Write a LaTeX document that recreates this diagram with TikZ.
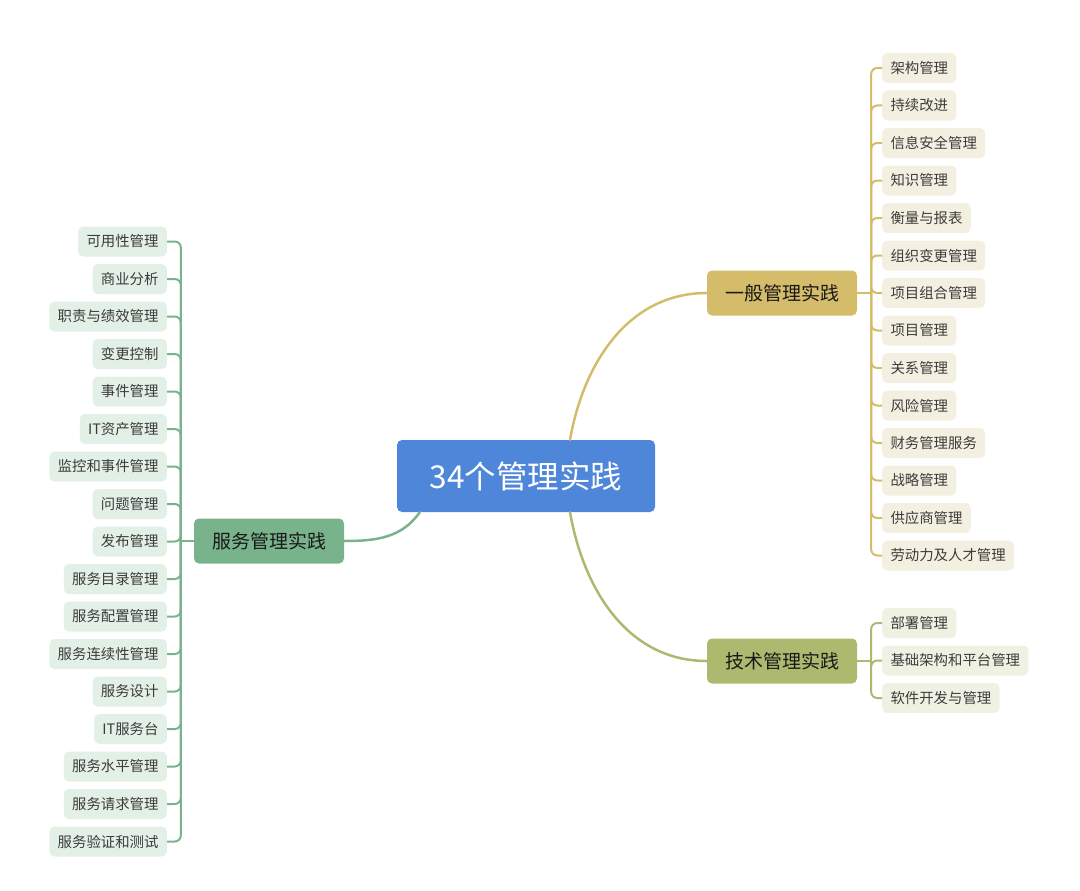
\documentclass[tikz,border=0pt]{standalone}
\usepackage{fontspec}
\setmainfont{Noto Sans CJK SC}
\usetikzlibrary{positioning}
\definecolor{hubBlue}{HTML}{4E86DA}
\definecolor{genGold}{HTML}{D4BC6A}
\definecolor{genLeaf}{HTML}{F4F0E1}
\definecolor{techOlive}{HTML}{ADB96E}
\definecolor{techLeaf}{HTML}{EFF1E3}
\definecolor{svcGreen}{HTML}{79B38C}
\definecolor{svcLeaf}{HTML}{E3F0E6}
\definecolor{leafText}{HTML}{3C3C3C}

\begin{document}
\begin{tikzpicture}[x=1pt, y=-1pt,
      hub/.style={fill=hubBlue, rounded corners=5pt, text=white, align=center,
        font=\fontsize{31.5}{35}\selectfont, minimum width=258pt, minimum height=72pt},
      practice/.style={rounded corners=5pt, text=black!90, align=center,
        font=\fontsize{19}{22}\selectfont, minimum width=150pt, minimum height=45pt},
      leaf/.style={rounded corners=5pt, text=leafText, inner xsep=8.3pt, inner ysep=0pt,
        font=\fontsize{14.4}{16}\selectfont, minimum height=30pt},
      gleaf/.style={leaf, fill=genLeaf, anchor=west},
      tleaf/.style={leaf, fill=techLeaf, anchor=west},
      sleaf/.style={leaf, fill=svcLeaf, anchor=east},
      branch/.style={line width=2.5pt, line cap=round},
      twig/.style={line width=2pt, rounded corners=6pt}]
    \useasboundingbox (0,0) rectangle (1080,891);

    % main topic and the three groups
    \node[hub] (hub) at (526,476) {34个管理实践};
    \node[practice, fill=genGold] (gen) at (782,293) {一般管理实践};
    \node[practice, fill=techOlive] (tech) at (782,661) {技术管理实践};
    \node[practice, fill=svcGreen] (svc) at (269,541) {服务管理实践};

    \draw[branch, genGold] ([xshift=44pt]hub.north) to[out=80, in=180] (gen.west);
    \draw[branch, techOlive] ([xshift=44pt]hub.south) to[out=-80, in=180] (tech.west);
    \draw[branch, svcGreen] ([xshift=23pt]hub.south west) to[out=-125, in=0] (svc.east);

    % general management practices
    \node[gleaf] (g1) at (882,68) {架构管理};
    \node[gleaf] (g2) at (882,105.5) {持续改进};
    \node[gleaf] (g3) at (882,143) {信息安全管理};
    \node[gleaf] (g4) at (882,180.5) {知识管理};
    \node[gleaf] (g5) at (882,218) {衡量与报表};
    \node[gleaf] (g6) at (882,255.5) {组织变更管理};
    \node[gleaf] (g7) at (882,293) {项目组合管理};
    \node[gleaf] (g8) at (882,330.5) {项目管理};
    \node[gleaf] (g9) at (882,368) {关系管理};
    \node[gleaf] (g10) at (882,405.5) {风险管理};
    \node[gleaf] (g11) at (882,443) {财务管理服务};
    \node[gleaf] (g12) at (882,480.5) {战略管理};
    \node[gleaf] (g13) at (882,518) {供应商管理};
    \node[gleaf] (g14) at (882,555.5) {劳动力及人才管理};

    % technical management practices
    \node[tleaf] (t1) at (882,623) {部署管理};
    \node[tleaf] (t2) at (882,660.5) {基础架构和平台管理};
    \node[tleaf] (t3) at (882,698) {软件开发与管理};

    % service management practices
    \node[sleaf] (s1) at (167,241.5) {可用性管理};
    \node[sleaf] (s2) at (167,279) {商业分析};
    \node[sleaf] (s3) at (167,316.5) {职责与绩效管理};
    \node[sleaf] (s4) at (167,354) {变更控制};
    \node[sleaf] (s5) at (167,391.5) {事件管理};
    \node[sleaf] (s6) at (167,429) {IT资产管理};
    \node[sleaf] (s7) at (167,466.5) {监控和事件管理};
    \node[sleaf] (s8) at (167,504) {问题管理};
    \node[sleaf] (s9) at (167,541.5) {发布管理};
    \node[sleaf] (s10) at (167,579) {服务目录管理};
    \node[sleaf] (s11) at (167,616.5) {服务配置管理};
    \node[sleaf] (s12) at (167,654) {服务连续性管理};
    \node[sleaf] (s13) at (167,691.5) {服务设计};
    \node[sleaf] (s14) at (167,729) {IT服务台};
    \node[sleaf] (s15) at (167,766.5) {服务水平管理};
    \node[sleaf] (s16) at (167,804) {服务请求管理};
    \node[sleaf] (s17) at (167,841.5) {服务验证和测试};

    \draw[twig, genGold] (gen.east) -- ++(14,0);
    \foreach \n in {g1,g2,g3,g4,g5,g6,g7,g8,g9,g10,g11,g12,g13,g14}
      \draw[twig, genGold] ([xshift=14pt]gen.east) |- (\n.west);
    \draw[twig, techOlive] (tech.east) -- ++(14,0);
    \foreach \n in {t1,t2,t3}
      \draw[twig, techOlive] ([xshift=14pt]tech.east) |- (\n.west);
    \draw[twig, svcGreen] (svc.west) -- ++(-13,0);
    \foreach \n in {s1,s2,s3,s4,s5,s6,s7,s8,s9,s10,s11,s12,s13,s14,s15,s16,s17}
      \draw[twig, svcGreen] ([xshift=-13pt]svc.west) |- (\n.east);
  \end{tikzpicture}
\end{document}
